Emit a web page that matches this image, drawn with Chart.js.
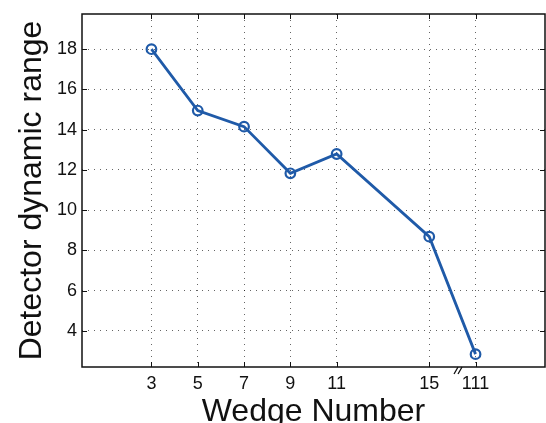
<!DOCTYPE html>
<html>
<head>
<meta charset="utf-8">
<script src="https://cdn.jsdelivr.net/npm/chart.js@4.4.1/dist/chart.umd.min.js"></script>
<style>
  html, body { margin: 0; padding: 0; background: #fff; }
  #wrap { width: 546px; height: 423px; position: relative; }
</style>
</head>
<body>
<div id="wrap"><canvas id="c" width="546" height="423"></canvas></div>
<script>
// ---- data ----
const wedgeNumbers = ['3', '5', '7', '9', '11', '15', '111'];
const dynamicRange = [18.0, 14.95, 14.15, 11.83, 12.79, 8.68, 2.84];
const yTickValues = [4, 6, 8, 10, 12, 14, 16, 18];
const axisBreakAfter = 15;   // values above this are drawn after the axis break
const breakSlot = 17;        // axis slot used for the value after the break
const breakMarkAt = 16.2;    // where the "//" break sign sits on the axis

function axisPos(n) { return n > axisBreakAfter ? breakSlot : n; }

const FONT = "'Liberation Sans', Arial, Helvetica, sans-serif";
const lineColor = 'rgb(31, 90, 168)';

const frameAndTicks = {
  id: 'frameAndTicks',
  afterDatasetsDraw(chart) {
    const { ctx, chartArea: a, scales } = chart;
    const xs = scales.x, ys = scales.y;
    const tl = 5;
    ctx.save();
    ctx.strokeStyle = '#111';
    ctx.lineWidth = 1.5;
    ctx.strokeRect(a.left, a.top, a.right - a.left, a.bottom - a.top);
    ctx.lineWidth = 1;
    ctx.beginPath();
    xs.ticks.forEach(t => {
      const px = Math.round(xs.getPixelForValue(t.value)) + 0.5;
      ctx.moveTo(px, a.bottom); ctx.lineTo(px, a.bottom - tl);
      ctx.moveTo(px, a.top); ctx.lineTo(px, a.top + tl);
    });
    ys.ticks.forEach(t => {
      const py = Math.round(ys.getPixelForValue(t.value)) + 0.5;
      ctx.moveTo(a.left, py); ctx.lineTo(a.left + tl, py);
      ctx.moveTo(a.right, py); ctx.lineTo(a.right - tl, py);
    });
    ctx.stroke();
    // axis break sign "//"
    const bx = xs.getPixelForValue(breakMarkAt);
    const by = a.bottom;
    ctx.lineWidth = 1.3;
    ctx.beginPath();
    ctx.moveTo(bx - 3, by + 7); ctx.lineTo(bx + 1, by);
    ctx.moveTo(bx + 1, by + 7); ctx.lineTo(bx + 5, by);
    ctx.stroke();
    ctx.restore();
  }
};

new Chart(document.getElementById('c'), {
  type: 'line',
  data: {
    datasets: [{
      data: wedgeNumbers.map((w, i) => ({ x: axisPos(Number(w)), y: dynamicRange[i] })),
      borderColor: lineColor,
      borderWidth: 2.8,
      pointRadius: 4.8,
      pointBorderWidth: 2.2,
      pointBackgroundColor: 'rgba(0,0,0,0)',
      pointBorderColor: lineColor,
      tension: 0,
      fill: false
    }]
  },
  options: {
    responsive: false,
    animation: false,
    events: [],
    layout: { autoPadding: false, padding: { top: 14, right: 1, left: 0, bottom: 0 } },
    plugins: { legend: { display: false }, tooltip: { enabled: false } },
    scales: {
      x: {
        type: 'linear',
        min: 0, max: 20,
        afterBuildTicks: s => { s.ticks = wedgeNumbers.map(w => ({ value: axisPos(Number(w)) })); },
        afterFit: s => { s.height = 56; s.paddingLeft = 0; s.paddingRight = 0; },
        ticks: {
          callback: (v, i) => wedgeNumbers[i],
          color: '#111',
          font: { family: FONT, size: 18 },
          padding: 6,
          maxRotation: 0,
          autoSkip: false
        },
        grid: { color: 'rgba(0,0,0,0.6)', lineWidth: 1, drawTicks: false },
        border: { display: false, dash: [1, 5] },
        title: {
          display: true,
          text: 'Wedge Number',
          color: '#111',
          font: { family: FONT, size: 32, lineHeight: 0.8 },
          padding: { top: 0, bottom: -2 }
        }
      },
      y: {
        type: 'linear',
        min: 2.2, max: 19.75,
        afterBuildTicks: s => { s.ticks = yTickValues.map(v => ({ value: v })); },
        afterFit: s => { s.width = 82; s.paddingTop = 0; s.paddingBottom = 0; },
        ticks: {
          color: '#111',
          font: { family: FONT, size: 18 },
          padding: 5
        },
        grid: { color: 'rgba(0,0,0,0.6)', lineWidth: 1, drawTicks: false },
        border: { display: false, dash: [1, 5] },
        title: {
          display: true,
          text: 'Detector dynamic range',
          color: '#111',
          font: { family: FONT, size: 32, lineHeight: 1.2 },
          padding: { top: 13, bottom: 0 }
        }
      }
    }
  },
  plugins: [frameAndTicks]
});
</script>
</body>
</html>
